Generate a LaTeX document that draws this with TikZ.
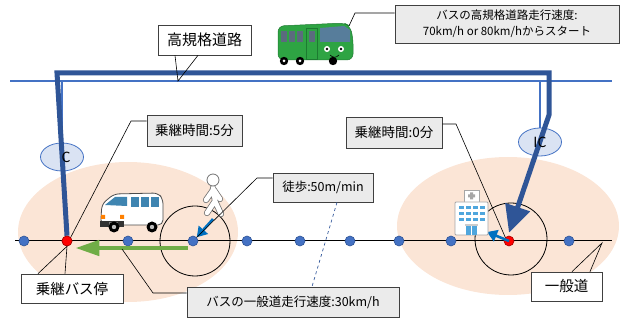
\documentclass[tikz,border=0pt]{standalone}
\usepackage{fontspec}
\setmainfont{Noto Sans CJK JP}
\usetikzlibrary{arrows.meta,shapes.geometric}

\definecolor{hwblue}{HTML}{4472C4}
\definecolor{routeblue}{HTML}{2F5597}
\definecolor{zonepeach}{HTML}{FBE5D6}
\definecolor{icfill}{HTML}{DAE3F3}
\definecolor{stopred}{HTML}{FF0000}
\definecolor{walkblue}{HTML}{0070C0}
\definecolor{arrgreen}{HTML}{70AD47}
\definecolor{busgreen}{HTML}{2EA443}
\definecolor{busdark}{HTML}{1D7A31}
\definecolor{glassblue}{HTML}{4FA6DD}
\definecolor{glassgray}{HTML}{5B6B7E}

\begin{document}
\begin{tikzpicture}[x=1pt,y=-1pt,
  callbox/.style={rectangle,draw=black!75,fill=black!8,line width=.7pt,align=center,inner sep=1pt},
  plainbox/.style={rectangle,draw=black!75,fill=white,line width=.7pt,align=center,inner sep=1pt},
  lead/.style={draw=black,line width=.6pt},
  hwline/.style={draw=hwblue,line width=1.8pt},
  route/.style={draw=routeblue,line width=5pt,-{Triangle[length=27pt,width=25pt]}},
  stopdot/.style={circle,draw=routeblue,fill=hwblue,minimum size=10pt,inner sep=0pt,line width=.6pt},
  xferdot/.style={stopdot,draw=stopred!65!black,fill=stopred},
  icnode/.style={ellipse,draw=hwblue,fill=icfill,minimum width=43pt,minimum height=28pt,inner sep=0pt,line width=.8pt},
  iclabel/.style={inner sep=0pt,font=\fontsize{14}{14}\selectfont},
  walkarr/.style={draw=walkblue,line width=2.6pt,-{Triangle[length=10pt,width=12pt]}},
  busarr/.style={draw=arrgreen,line width=4.5pt,-{Triangle[length=24pt,width=15pt]}}
]
\useasboundingbox (0,0) rectangle (622,320);

% service areas and walking range
\fill[zonepeach] (128,232) ellipse [x radius=110pt, y radius=70pt];
\fill[zonepeach] (508,226) ellipse [x radius=111pt, y radius=69pt];
\draw[line width=.8pt] (195,241) circle [radius=35pt];
\draw[line width=.8pt] (511,239) circle [radius=36pt];

% local road
\draw[line width=1pt] (15,241) -- (612,241);

% expressway and interchanges
\coordinate (hwW) at (10,81);
\coordinate (hwE) at (612,81);
\draw[hwline] (hwW) -- (hwE);
\node[icnode] (icL) at (62,157) {};
\node[icnode] (icR) at (540,142) {};
\draw[hwline,line width=1.3pt] (icL.north) -- (icL.north |- hwW);
\draw[hwline,line width=1.3pt] (icR.north) -- (icR.north |- hwW);

% stops
\foreach \x [count=\i] in {24,128,193,247,300,350,399,451,569}
  \node[stopdot] (d\i) at (\x,241) {};
\node[xferdot] (stopL) at (67,241) {};
\node[xferdot] (stopR) at (509,241) {};

% bus route over the expressway
\draw[route] (stopL.north) -- (57,73) -- (549,73) -- (549,115) -- ([yshift=3pt]stopR.north);
\node[xferdot] at (stopL) {};
\node[iclabel] at ([xshift=4pt]icL.center) {C};
\node[iclabel] at (icR.center) {IC};

% bus on the local road, walking legs
\draw[busarr] ([yshift=-7pt]d3.west) -- ([xshift=3pt,yshift=-7pt]stopL.east);
\coordinate (walker) at (213,219);
\coordinate (hospdoor) at (487,232);
\draw[walkarr] (walker) -- (d3.north east);
\draw[walkarr] (stopR.center) -- (hospdoor);

% green express bus
\begin{scope}[shift={(278,22)}]
  \fill[busgreen,draw=busdark,line width=.5pt,rounded corners=6pt] (0,4) -- (66,1) -- (72,4) -- (75,16) -- (75,38) -- (0,38) -- cycle;
  \foreach \x in {3,11,19}
    \fill[glassgray] (\x,9) rectangle ++(6,11);
  \fill[glassgray] (31,9) rectangle (37,20);
  \draw[busdark,line width=.8pt] (28,6) rectangle (39,37);
  \fill[glassgray!70!glassblue] (42,6) -- (66,4) -- (72,8) -- (72,20) -- (42,20) -- cycle;
  \fill[white] (49,27) circle [radius=3pt] (63,27) circle [radius=3pt];
  \fill[black] (49,27) circle [radius=1.3pt] (63,27) circle [radius=1.3pt];
  \draw[black,line width=.6pt] (52,33) .. controls (55,36) and (58,36) .. (61,33);
  \foreach \x in {6,22,55}
    \fill[black] (\x,39) circle [radius=4.2pt];
  \foreach \x in {6,22}
    \fill[white] (\x,39) circle [radius=1.5pt];
\end{scope}

% white van
\begin{scope}[shift={(100,191)}]
  \fill[white,draw=black!70,line width=.8pt,rounded corners=5pt] (1,26) -- (2,13) -- (14,3) -- (58,2) -- (63,8) -- (63,34) -- (1,34) -- cycle;
  \fill[glassblue!80!black] (5,14) -- (15,6) -- (27,6) -- (27,15) -- cycle;
  \foreach \x in {31,41,51}
    \fill[glassblue!80!black] (\x,6) rectangle ++(8,10);
  \fill[black!80] (0,30) rectangle (24,36);
  \fill[orange] (1,24) rectangle (5,28) (20,24) rectangle (24,28);
  \fill[white,draw=black!50] (9,31) rectangle (17,34);
  \foreach \x in {14,52}
    {\fill[black] (\x,36) circle [radius=5.5pt];
     \fill[black!25] (\x,36) circle [radius=2.2pt];}
\end{scope}

% pedestrian
\begin{scope}[line cap=round,line join=round]
  \draw[black!55,line width=6.2pt] (213,188) -- (215,201) -- (207,213) (215,201) -- (221,214)
    (213,190) -- (206,200) (214,190) -- (220,199);
  \draw[white,line width=4.6pt] (213,188) -- (215,201) -- (207,213) (215,201) -- (221,214)
    (213,190) -- (206,200) (214,190) -- (220,199);
  \filldraw[fill=white,draw=black!55,line width=.8pt] (213,180) circle [radius=6pt];
\end{scope}

% hospital
\begin{scope}[shift={(455,190)}]
  \filldraw[fill=white,draw=black!35,line width=.8pt] (9,0) rectangle (24,12);
  \fill[black!35] (15,2.5) rectangle (18,9.5) (13,4.5) rectangle (20,7.5);
  \filldraw[fill=white,draw=black!35,line width=.8pt,rounded corners=1pt] (0,12) rectangle (33,45);
  \foreach \x in {4,11,18,25}
    \foreach \y in {16,22,28}
      \fill[glassblue] (\x,\y) rectangle ++(5,3.5);
  \fill[black!20] (10,34) rectangle (23,36);
  \fill[glassblue] (11,36) rectangle (22,45);
  \draw[white,line width=.5pt] (16.5,36) -- (16.5,45);
\end{scope}

% labels
\node[plainbox,minimum width=93pt,minimum height=30pt,font=\fontsize{15}{15}\selectfont] (hwname) at (204.5,40) {高規格道路};
\coordinate (hwpt) at (178,81);
\draw[lead] ([xshift=-29.5pt]hwname.south) -- (hwpt) -- ([xshift=-6.5pt]hwname.south);

\node[callbox,minimum width=224pt,minimum height=38pt,font=\fontsize{11.5}{16}\selectfont] (hwspeed) at (507,24) {バスの高規格道路走行速度:\\70km/h or 80km/hからスタート};
\coordinate (busroof) at (349,26);
\draw[lead] ([yshift=11pt]hwspeed.west) -- (355,13) -- (busroof);

\node[callbox,minimum width=95pt,minimum height=31pt,font=\fontsize{13.5}{13.5}\selectfont] (xfer5) at (194.5,130.5) {乗継時間:5分};
\draw[lead] ([yshift=9.5pt]xfer5.west) -- (131,121) -- (stopL.north east);

\node[callbox,minimum width=96pt,minimum height=31pt,font=\fontsize{13.5}{13.5}\selectfont] (xfer0) at (394,132.5) {乗継時間:0分};
\draw[lead] ([yshift=8.5pt]xfer0.east) -- (456,124) -- (stopR.north west);

\node[callbox,minimum width=100pt,minimum height=29pt,font=\fontsize{12.5}{12.5}\selectfont] (walk) at (323,187.5) {徒歩:50m/min};
\draw[lead] ([yshift=9.5pt]walk.west) -- (257,178) -- (d3);

\node[callbox,minimum width=212pt,minimum height=30pt,font=\fontsize{12.5}{12.5}\selectfont] (lsspeed) at (293,302) {バスの一般道走行速度:30km/h};
\coordinate (greenpt) at (122,249);
\draw[lead] ([yshift=9pt]lsspeed.west) -- (153,293) -- (greenpt);
\draw[hwblue!80!black,dashed,line width=.7pt] ([xshift=14pt]walk.south) -- ([xshift=19pt]lsspeed.north);

\node[plainbox,minimum width=102pt,minimum height=29pt,font=\fontsize{14.5}{14.5}\selectfont] (xferstop) at (72,288.5) {乗継バス停};
\draw[lead] ([xshift=-34pt]xferstop.north) -- (stopL.south) -- ([xshift=-7pt]xferstop.north);

\node[plainbox,minimum width=71pt,minimum height=29pt,font=\fontsize{14.5}{14.5}\selectfont] (road) at (566.5,286.5) {一般道};
\coordinate (roadpt) at (602,243);
\draw[lead] ([xshift=5.5pt]road.north) -- (roadpt) -- ([xshift=23.5pt]road.north);
\end{tikzpicture}
\end{document}
